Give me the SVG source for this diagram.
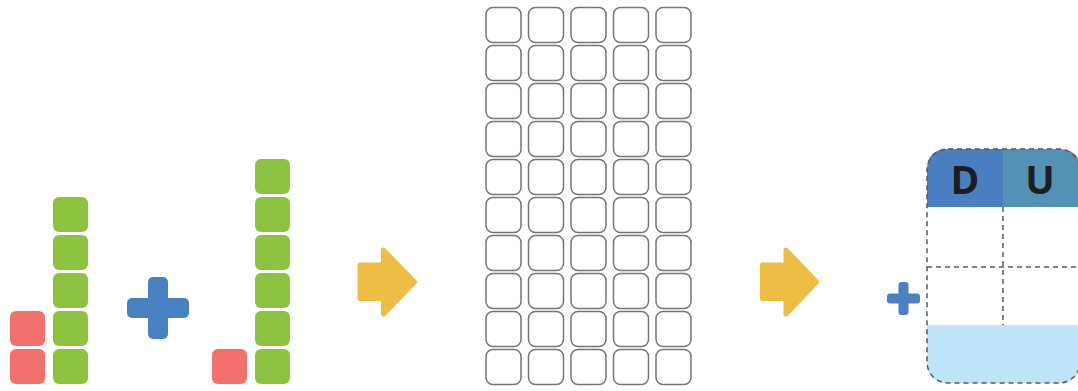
<svg xmlns="http://www.w3.org/2000/svg" width="1078" height="391" viewBox="0 0 1078 391">
<style>
.g{fill:#8cc43f}
.r{fill:#f2716c}
.pl{fill:#4a81c3}
.ar{fill:#edbe43;stroke:#edbe43;stroke-width:5;stroke-linejoin:round}
.c{fill:#fff;stroke:#767676;stroke-width:1.5}
.dash{fill:none;stroke:#5a5a5a;stroke-width:1.5;stroke-dasharray:5 4}
.t{font-family:"Open Sans","Liberation Sans",sans-serif;font-weight:bold;font-size:39px;fill:#1e1e1e;text-anchor:middle}
</style>
<defs>
<rect id="sq" width="35" height="35" rx="6"/>
<rect id="cell" width="35" height="35" rx="7"/>
</defs>
<rect width="1078" height="391" fill="#fff"/>
<g id="left-stack">
<use href="#sq" class="r" x="10" y="311"/>
<use href="#sq" class="r" x="10" y="349"/>
<use href="#sq" class="g" x="53" y="197"/>
<use href="#sq" class="g" x="53" y="235"/>
<use href="#sq" class="g" x="53" y="273"/>
<use href="#sq" class="g" x="53" y="311"/>
<use href="#sq" class="g" x="53" y="349"/>
</g>
<g id="plus-big">
<rect class="pl" x="148" y="277" width="20" height="62" rx="5"/>
<rect class="pl" x="127" y="298" width="62" height="20" rx="5"/>
</g>
<g id="right-stack">
<use href="#sq" class="r" x="212" y="349"/>
<use href="#sq" class="g" x="255" y="159"/>
<use href="#sq" class="g" x="255" y="197"/>
<use href="#sq" class="g" x="255" y="235"/>
<use href="#sq" class="g" x="255" y="273"/>
<use href="#sq" class="g" x="255" y="311"/>
<use href="#sq" class="g" x="255" y="349"/>
</g>
<g id="arrow1">
<path class="ar" d="M360 265 L383.5 265 L383.5 250 L414.5 282 L383.5 314 L383.5 298.5 L360 298.5 Z"/>
</g>
<g id="grid">
<g id="col1">
<use href="#cell" class="c" x="486" y="7.5"/><use href="#cell" class="c" x="486" y="45.5"/><use href="#cell" class="c" x="486" y="83.5"/><use href="#cell" class="c" x="486" y="121.5"/><use href="#cell" class="c" x="486" y="159.5"/><use href="#cell" class="c" x="486" y="197.5"/><use href="#cell" class="c" x="486" y="235.5"/><use href="#cell" class="c" x="486" y="273.5"/><use href="#cell" class="c" x="486" y="311.5"/><use href="#cell" class="c" x="486" y="349.5"/>
</g>
<g id="col2">
<use href="#cell" class="c" x="528.5" y="7.5"/><use href="#cell" class="c" x="528.5" y="45.5"/><use href="#cell" class="c" x="528.5" y="83.5"/><use href="#cell" class="c" x="528.5" y="121.5"/><use href="#cell" class="c" x="528.5" y="159.5"/><use href="#cell" class="c" x="528.5" y="197.5"/><use href="#cell" class="c" x="528.5" y="235.5"/><use href="#cell" class="c" x="528.5" y="273.5"/><use href="#cell" class="c" x="528.5" y="311.5"/><use href="#cell" class="c" x="528.5" y="349.5"/>
</g>
<g id="col3">
<use href="#cell" class="c" x="571" y="7.5"/><use href="#cell" class="c" x="571" y="45.5"/><use href="#cell" class="c" x="571" y="83.5"/><use href="#cell" class="c" x="571" y="121.5"/><use href="#cell" class="c" x="571" y="159.5"/><use href="#cell" class="c" x="571" y="197.5"/><use href="#cell" class="c" x="571" y="235.5"/><use href="#cell" class="c" x="571" y="273.5"/><use href="#cell" class="c" x="571" y="311.5"/><use href="#cell" class="c" x="571" y="349.5"/>
</g>
<g id="col4">
<use href="#cell" class="c" x="613.5" y="7.5"/><use href="#cell" class="c" x="613.5" y="45.5"/><use href="#cell" class="c" x="613.5" y="83.5"/><use href="#cell" class="c" x="613.5" y="121.5"/><use href="#cell" class="c" x="613.5" y="159.5"/><use href="#cell" class="c" x="613.5" y="197.5"/><use href="#cell" class="c" x="613.5" y="235.5"/><use href="#cell" class="c" x="613.5" y="273.5"/><use href="#cell" class="c" x="613.5" y="311.5"/><use href="#cell" class="c" x="613.5" y="349.5"/>
</g>
<g id="col5">
<use href="#cell" class="c" x="656" y="7.5"/><use href="#cell" class="c" x="656" y="45.5"/><use href="#cell" class="c" x="656" y="83.5"/><use href="#cell" class="c" x="656" y="121.5"/><use href="#cell" class="c" x="656" y="159.5"/><use href="#cell" class="c" x="656" y="197.5"/><use href="#cell" class="c" x="656" y="235.5"/><use href="#cell" class="c" x="656" y="273.5"/><use href="#cell" class="c" x="656" y="311.5"/><use href="#cell" class="c" x="656" y="349.5"/>
</g>
</g>
<g id="arrow2">
<path class="ar" d="M762.5 265 L786 265 L786 250 L816.5 282 L786 314 L786 298.5 L762.5 298.5 Z"/>
</g>
<g id="plus-small">
<rect class="pl" x="898.5" y="282" width="10" height="33" rx="3"/>
<rect class="pl" x="887" y="293.5" width="33" height="10" rx="3"/>
</g>
<g id="table">
<path fill="#4a7fc1" d="M927 207 L927 170 Q927 149 948 149 L1003 149 L1003 207 Z"/>
<path fill="#5492b5" d="M1003 207 L1003 149 L1059 149 Q1080 149 1080 170 L1080 207 Z"/>
<path fill="#bde6f9" d="M927 325 L1080 325 L1080 362 Q1080 383 1059 383 L948 383 Q927 383 927 362 Z"/>
<text class="t" x="965" y="194">D</text>
<text class="t" x="1040" y="194">U</text>
<line class="dash" x1="927" y1="267" x2="1080" y2="267"/>
<line class="dash" x1="1003" y1="207" x2="1003" y2="325"/>
<rect class="dash" x="927" y="149" width="153" height="234" rx="21"/>
</g>
</svg>
